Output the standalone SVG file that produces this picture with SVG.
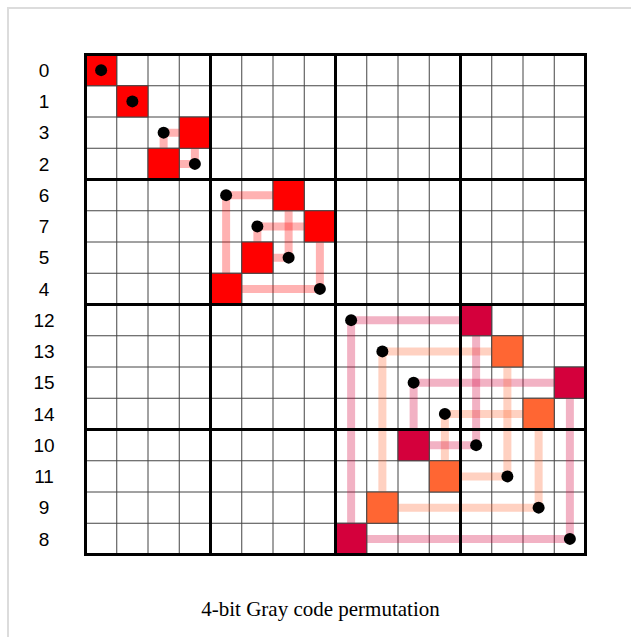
<svg xmlns="http://www.w3.org/2000/svg" width="631" height="637" viewBox="0 0 631 637">
<style>
.lbl{font-family:"Liberation Sans",Arial,sans-serif;font-size:19px;fill:#000;text-anchor:middle}
.cap{font-family:"Liberation Serif","Times New Roman",serif;font-size:21px;fill:#000;text-anchor:middle}
.thin{stroke:#444;stroke-width:1;fill:none}
.thick{stroke:#000;stroke-width:3;fill:none}
.c{fill:none;stroke-width:8;stroke-opacity:0.3;stroke-linejoin:miter}
.cr{stroke:#ff0000}.cc{stroke:#d4003c}.co{stroke:#ff6633}
.sq{stroke:#444;stroke-width:1}
.r{fill:#ff0000}.k{fill:#d4003c}.o{fill:#ff6633}
.dot{fill:#000}
</style>
<rect x="8" y="8" width="640" height="650" fill="#fff" stroke="#dcdcdc" stroke-width="2"/>
<g transform="translate(85.5,54.5)">
<g id="grid-thin" class="thin">
<path d="M31.25,0V500M62.5,0V500M93.75,0V500M156.25,0V500M187.5,0V500M218.75,0V500M281.25,0V500M312.5,0V500M343.75,0V500M406.25,0V500M437.5,0V500M468.75,0V500"/>
<path d="M0,31.25H500M0,62.5H500M0,93.75H500M0,156.25H500M0,187.5H500M0,218.75H500M0,281.25H500M0,312.5H500M0,343.75H500M0,406.25H500M0,437.5H500M0,468.75H500"/>
</g>
<g id="connectors">
<path class="c cr" d="M109.375,78.125H78.125V109.375"/>
<path class="c cr" d="M78.125,109.375H109.375V78.125"/>
<path class="c cr" d="M203.125,140.625H140.625V234.375"/>
<path class="c cr" d="M234.375,171.875H171.875V203.125"/>
<path class="c cr" d="M171.875,203.125H203.125V140.625"/>
<path class="c cr" d="M140.625,234.375H234.375V171.875"/>
<path class="c cc" d="M390.625,265.625H265.625V484.375"/>
<path class="c co" d="M421.875,296.875H296.875V453.125"/>
<path class="c cc" d="M484.375,328.125H328.125V390.625"/>
<path class="c co" d="M453.125,359.375H359.375V421.875"/>
<path class="c cc" d="M328.125,390.625H390.625V265.625"/>
<path class="c co" d="M359.375,421.875H421.875V296.875"/>
<path class="c co" d="M296.875,453.125H453.125V359.375"/>
<path class="c cc" d="M265.625,484.375H484.375V328.125"/>
</g>
<g id="row0"><text class="lbl" x="-41.5" y="22.4">0</text><rect class="sq r" x="0" y="0" width="31.25" height="31.25"/><circle class="dot" cx="15.625" cy="15.625" r="6"/></g>
<g id="row1"><text class="lbl" x="-41.5" y="53.6">1</text><rect class="sq r" x="31.25" y="31.25" width="31.25" height="31.25"/><circle class="dot" cx="46.875" cy="46.875" r="6"/></g>
<g id="row3"><text class="lbl" x="-41.5" y="84.9">3</text><rect class="sq r" x="93.75" y="62.5" width="31.25" height="31.25"/><circle class="dot" cx="78.125" cy="78.125" r="6"/></g>
<g id="row2"><text class="lbl" x="-41.5" y="116.1">2</text><rect class="sq r" x="62.5" y="93.75" width="31.25" height="31.25"/><circle class="dot" cx="109.375" cy="109.375" r="6"/></g>
<g id="row6"><text class="lbl" x="-41.5" y="147.4">6</text><rect class="sq r" x="187.5" y="125" width="31.25" height="31.25"/><circle class="dot" cx="140.625" cy="140.625" r="6"/></g>
<g id="row7"><text class="lbl" x="-41.5" y="178.6">7</text><rect class="sq r" x="218.75" y="156.25" width="31.25" height="31.25"/><circle class="dot" cx="171.875" cy="171.875" r="6"/></g>
<g id="row5"><text class="lbl" x="-41.5" y="209.9">5</text><rect class="sq r" x="156.25" y="187.5" width="31.25" height="31.25"/><circle class="dot" cx="203.125" cy="203.125" r="6"/></g>
<g id="row4"><text class="lbl" x="-41.5" y="241.1">4</text><rect class="sq r" x="125" y="218.75" width="31.25" height="31.25"/><circle class="dot" cx="234.375" cy="234.375" r="6"/></g>
<g id="row12"><text class="lbl" x="-41.5" y="272.4">12</text><rect class="sq k" x="375" y="250" width="31.25" height="31.25"/><circle class="dot" cx="265.625" cy="265.625" r="6"/></g>
<g id="row13"><text class="lbl" x="-41.5" y="303.6">13</text><rect class="sq o" x="406.25" y="281.25" width="31.25" height="31.25"/><circle class="dot" cx="296.875" cy="296.875" r="6"/></g>
<g id="row15"><text class="lbl" x="-41.5" y="334.9">15</text><rect class="sq k" x="468.75" y="312.5" width="31.25" height="31.25"/><circle class="dot" cx="328.125" cy="328.125" r="6"/></g>
<g id="row14"><text class="lbl" x="-41.5" y="366.1">14</text><rect class="sq o" x="437.5" y="343.75" width="31.25" height="31.25"/><circle class="dot" cx="359.375" cy="359.375" r="6"/></g>
<g id="row10"><text class="lbl" x="-41.5" y="397.4">10</text><rect class="sq k" x="312.5" y="375" width="31.25" height="31.25"/><circle class="dot" cx="390.625" cy="390.625" r="6"/></g>
<g id="row11"><text class="lbl" x="-41.5" y="428.6">11</text><rect class="sq o" x="343.75" y="406.25" width="31.25" height="31.25"/><circle class="dot" cx="421.875" cy="421.875" r="6"/></g>
<g id="row9"><text class="lbl" x="-41.5" y="459.9">9</text><rect class="sq o" x="281.25" y="437.5" width="31.25" height="31.25"/><circle class="dot" cx="453.125" cy="453.125" r="6"/></g>
<g id="row8"><text class="lbl" x="-41.5" y="491.1">8</text><rect class="sq k" x="250" y="468.75" width="31.25" height="31.25"/><circle class="dot" cx="484.375" cy="484.375" r="6"/></g>
<g id="grid-blocks" class="thick">
<rect x="0" y="0" width="500" height="500"/>
<path d="M125,0V500M250,0V500M375,0V500M0,125H500M0,250H500M0,375H500"/>
</g>
</g>
<text class="cap" x="320.5" y="616">4-bit Gray code permutation</text>
</svg>
